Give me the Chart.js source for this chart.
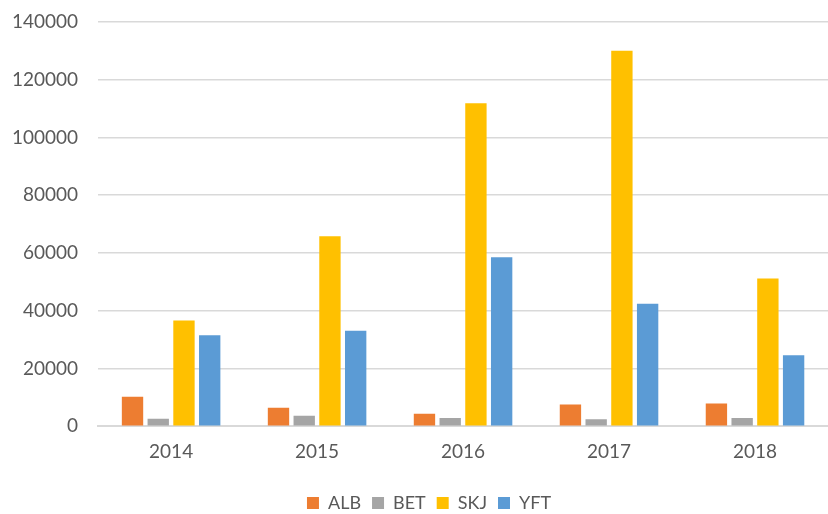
<!DOCTYPE html>
<html>
<head>
<meta charset="utf-8">
<script src="https://cdn.jsdelivr.net/npm/chart.js@4"></script>
<style>
  html, body { margin: 0; padding: 0; background: #fff; }
  #wrap { width: 828px; height: 514px; }
</style>
</head>
<body>
<div id="wrap"><canvas id="myChart" width="828" height="514"></canvas></div>
<script>
// catch per species and year
const years = ['2014', '2015', '2016', '2017', '2018'];
const alb = [10200, 6400, 4300, 7500, 7900];
const bet = [2600, 3600, 2850, 2400, 2850];
const skj = [36600, 65800, 111900, 130000, 51200];
const yft = [31500, 33100, 58500, 42400, 24600];

const fontFamily = 'Lato, "Open Sans", sans-serif';

function series(label, data, color){
    return {
        label: label,
        data: data,
        backgroundColor: color,
        borderWidth: 0,
        barPercentage: 0.83,
        categoryPercentage: 0.705
    };
}

// nudge the legend a bit to the right of the canvas centre
const legendShift = {
    id: 'legendShift',
    beforeDraw(chart){
        const lg = chart.legend;
        if(!lg || lg._shifted) return;
        lg.left += 19;
        lg.right += 19;
        lg._shifted = true;
    }
};

new Chart(document.getElementById('myChart'), {
    type: 'bar',
    data: {
        labels: years,
        datasets: [
            series('ALB', alb, '#ED7D31'),
            series('BET', bet, '#A5A5A5'),
            series('SKJ', skj, '#FFC000'),
            series('YFT', yft, '#5B9BD5')
        ]
    },
    options: {
        responsive: false,
        animation: false,
        layout: { padding: { top: 0, right: 0, left: -8, bottom: -8 } },
        scales: {
            x: {
                grid: { display: false },
                border: { color: '#D9D9D9', width: 2 },
                ticks: { color: '#595959', font: { family: fontFamily, size: 19 }, padding: 6 },
                afterFit(scale){ scale.height += 14; }
            },
            y: {
                min: 0,
                max: 140000,
                grid: { color: '#D9D9D9', lineWidth: 1.5, drawTicks: false },
                border: { display: false },
                ticks: {
                    stepSize: 20000,
                    color: '#595959',
                    font: { family: fontFamily, size: 19 },
                    padding: 20,
                    callback: v => String(v)
                },
                // tick padding should only push labels sideways, not down from the top
                afterFit(scale){ scale.paddingTop = 22; }
            }
        },
        plugins: {
            legend: {
                position: 'bottom',
                labels: {
                    boxWidth: 12,
                    boxHeight: 12,
                    padding: 11,
                    color: '#595959',
                    font: { family: fontFamily, size: 18 }
                }
            },
            tooltip: { enabled: false }
        }
    },
    plugins: [legendShift]
});
</script>
</body>
</html>
